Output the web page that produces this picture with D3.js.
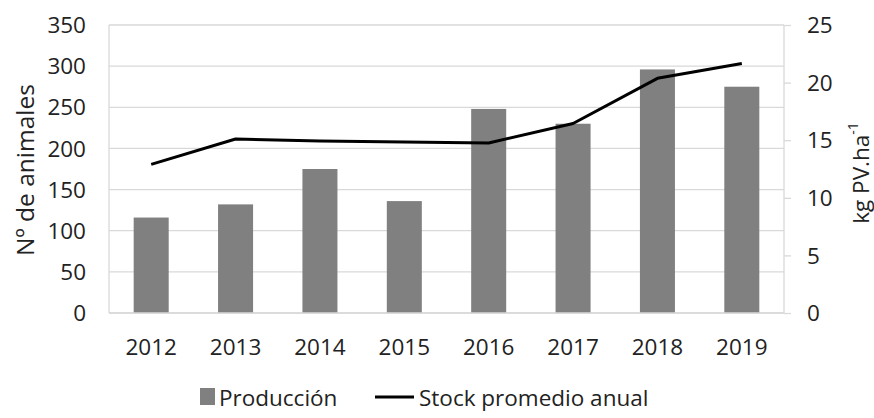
<!DOCTYPE html>
<html>
<head>
<meta charset="utf-8">
<script src="https://cdn.jsdelivr.net/npm/d3@7"></script>
<style>
  body { margin: 0; background: #fff; }
  svg { display: block; }
  text { font-family: "Open Sans", sans-serif; fill: #222; }
</style>
</head>
<body>
<svg id="chart" width="874" height="418"></svg>
<script>
const years = ["2012","2013","2014","2015","2016","2017","2018","2019"];
const produccion = [116, 132, 175, 136, 248, 230, 296, 275];
const stock = [12.9, 15.1, 14.93, 14.85, 14.76, 16.45, 20.37, 21.65];
const leftTicks = [0, 50, 100, 150, 200, 250, 300, 350];
const rightTicks = [0, 5, 10, 15, 20, 25];

(function () {
const svg = d3.select("#chart");
const pl = 109, pr = 784, pt = 25, pb = 313;
const fs = 22.5;

const x = d3.scaleBand().domain(years).range([pl, pr]).paddingInner(0.585).paddingOuter(0.2925);
const y = d3.scaleLinear().domain([0, 350]).range([pb, pt]);
const y2 = d3.scaleLinear().domain([0, 25]).range([pb, pt]);

// gridlines
svg.append("g").selectAll("line").data(leftTicks).join("line")
  .attr("x1", pl).attr("x2", pr)
  .attr("y1", d => y(d)).attr("y2", d => y(d))
  .attr("stroke", "#d9d9d9").attr("stroke-width", 1.3);

// left axis line
svg.append("line").attr("x1", pl).attr("x2", pl).attr("y1", pt).attr("y2", pb)
  .attr("stroke", "#d9d9d9").attr("stroke-width", 1.3);

// right axis
const ra = svg.append("g").attr("transform", `translate(${pr},0)`)
  .call(d3.axisRight(y2).tickValues(rightTicks).tickSize(7).tickPadding(16));
ra.select(".domain").attr("stroke", "#d9d9d9").attr("stroke-width", 1.3).attr("d", `M0,${pt}V${pb}`);
ra.selectAll(".tick line").attr("stroke", "#d9d9d9").attr("stroke-width", 1.3);
ra.selectAll(".tick text").attr("font-size", fs).attr("font-family", "Open Sans").attr("fill", "#222").attr("dy", "0.34em");

// left tick labels
const la = svg.append("g").attr("transform", `translate(${pl},0)`)
  .call(d3.axisLeft(y).tickValues(leftTicks).tickSize(0).tickPadding(23));
la.select(".domain").remove();
la.selectAll(".tick text").attr("font-size", fs).attr("font-family", "Open Sans").attr("fill", "#222").attr("dy", "0.34em");

// bars
svg.append("g").selectAll("rect").data(years).join("rect")
  .attr("x", d => x(d)).attr("width", x.bandwidth())
  .attr("y", (d, i) => y(produccion[i]))
  .attr("height", (d, i) => y(0) - y(produccion[i]))
  .attr("fill", "#808080");

// bottom axis line
svg.append("line").attr("x1", pl).attr("x2", pr).attr("y1", pb).attr("y2", pb)
  .attr("stroke", "#d9d9d9").attr("stroke-width", 1.3);

// x labels
const xa = svg.append("g").attr("transform", `translate(0,${pb})`)
  .call(d3.axisBottom(x).tickSize(0).tickPadding(26));
xa.select(".domain").remove();
xa.selectAll(".tick text").attr("font-size", fs).attr("font-family", "Open Sans").attr("fill", "#222");

// line
const line = d3.line().x((d, i) => x(years[i]) + x.bandwidth() / 2).y(d => y2(d));
svg.append("path").datum(stock).attr("d", line)
  .attr("fill", "none").attr("stroke", "#000").attr("stroke-width", 3).attr("stroke-linejoin", "round");

// axis titles
svg.append("text").attr("transform", "translate(24,170) rotate(-90)")
  .attr("text-anchor", "middle").attr("dominant-baseline", "central").attr("font-size", 24.5)
  .text("Nº de animales");
const rt = svg.append("text").attr("transform", "translate(860,173) rotate(-90)")
  .attr("text-anchor", "middle").attr("dominant-baseline", "central").attr("font-size", fs);
rt.append("tspan").text("kg PV.ha");
rt.append("tspan").attr("font-size", 14).attr("dy", -8).text("-1");

// legend
const lg = svg.append("g");
lg.append("rect").attr("x", 200).attr("y", 388).attr("width", 15).attr("height", 17).attr("fill", "#808080");
lg.append("text").attr("x", 219).attr("y", 397).attr("dominant-baseline", "central").attr("font-size", fs).text("Producción");
lg.append("line").attr("x1", 375).attr("x2", 414).attr("y1", 397).attr("y2", 397).attr("stroke", "#000").attr("stroke-width", 3);
lg.append("text").attr("x", 419).attr("y", 397).attr("dominant-baseline", "central").attr("font-size", fs).text("Stock promedio anual");
})();
</script>
</body>
</html>
